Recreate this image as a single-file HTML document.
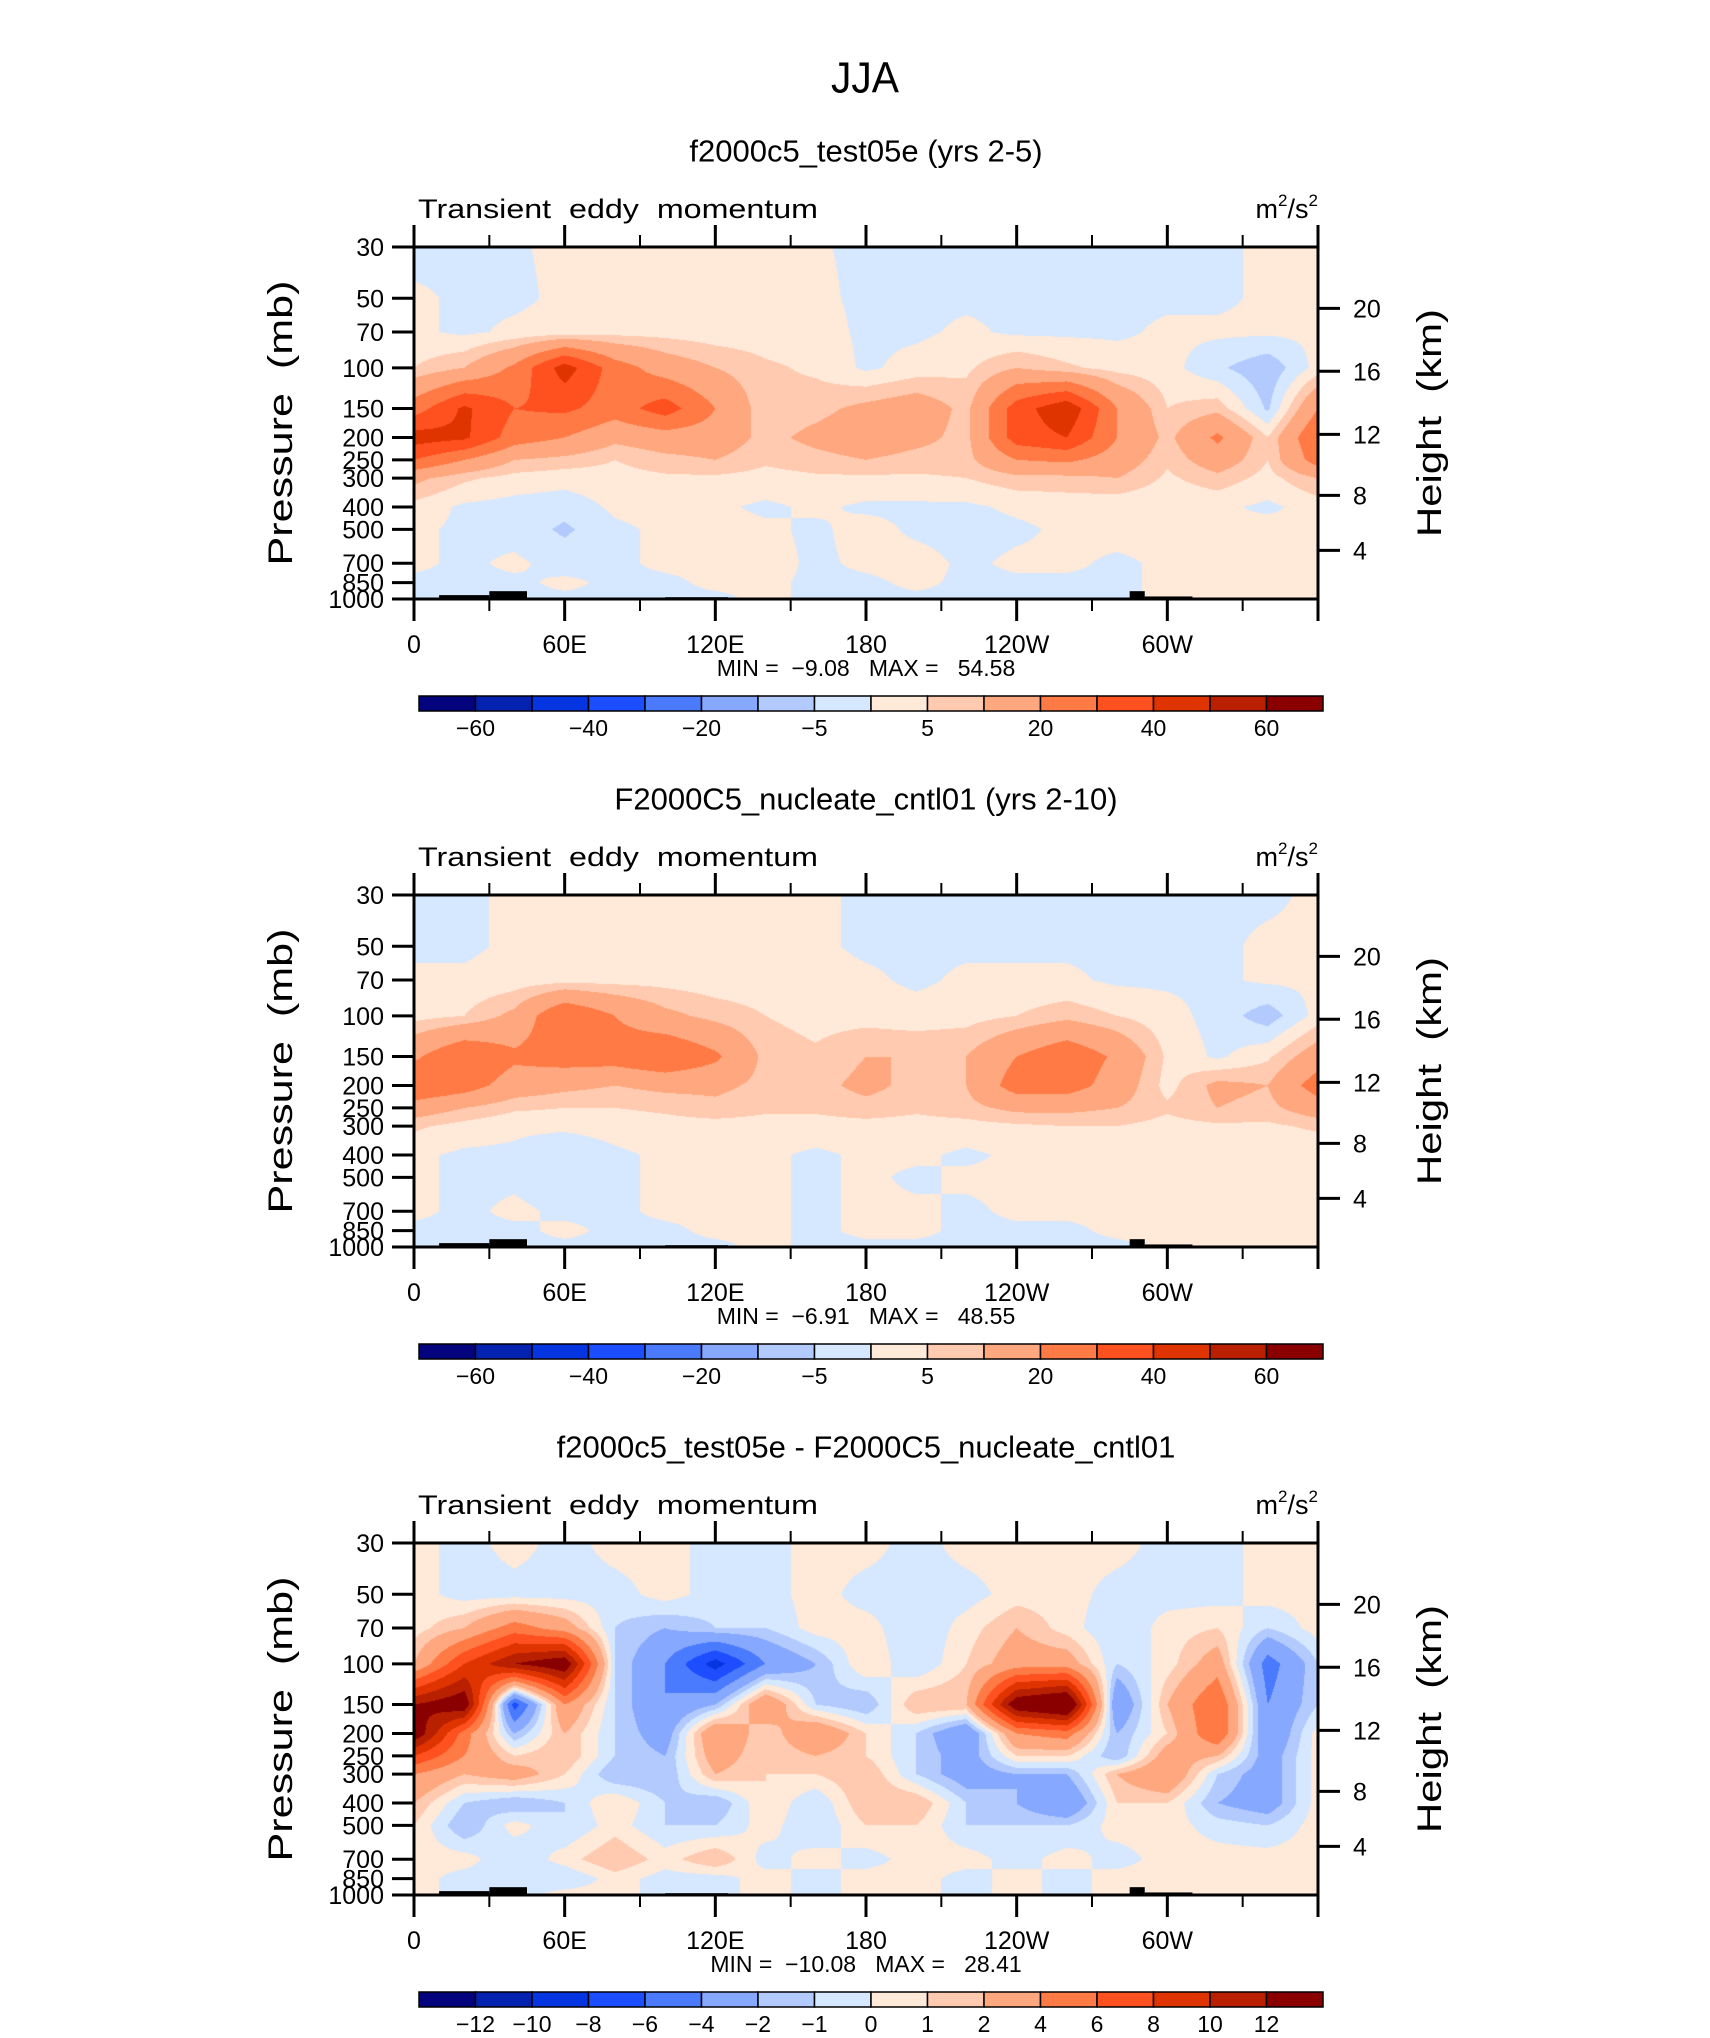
<!DOCTYPE html>
<html><head><meta charset="utf-8">
<style>
html,body{margin:0;padding:0;background:#fff;}
#wrap{position:relative;width:1710px;height:2038px;overflow:hidden;background:#fff;}
canvas{position:absolute;}
svg{position:absolute;left:0;top:0;}
text{font-family:"Liberation Sans",sans-serif;fill:#000;white-space:pre;}
</style></head>
<body>
<div id="wrap">
<canvas id="c0"></canvas>
<canvas id="c1"></canvas>
<canvas id="c2"></canvas>
<svg id="svg" width="1710" height="2038" xmlns="http://www.w3.org/2000/svg"></svg>
</div>
<script>
// ---- data ----
const lons = [0,20,40,60,80,100,120,140,160,180,200,220,240,260,280,300,320,340,360];
const levels = [30,50,70,100,150,200,250,300,400,500,700,850,1000];
const pTicks = [30,50,70,100,150,200,250,300,400,500,700,850,1000];
const hTickLabels = [20,16,12,8,4];
const hTickPressures = [55.3,103.5,194,356,616];
const xTickLabels = ["0","60E","120E","180","120W","60W"];
const xTickLons = [0,60,120,180,240,300];
const boundsMain = [-60,-50,-40,-30,-20,-10,-5,0,5,10,20,30,40,50,60];
const labelsMain = ["-60","","-40","","-20","","-5","","5","","20","","40","","60"];
const boundsDiff = [-12,-10,-8,-6,-4,-2,-1,0,1,2,4,6,8,10,12];
const labelsDiff = ["-12","-10","-8","-6","-4","-2","-1","0","1","2","4","6","8","10","12"];
const palette = ["#03037d","#0422b0","#0535e0","#1c4dff","#4a7bff","#86a8ff","#b3caff","#d5e8ff","#ffe9d8","#ffcab0","#ffa77e","#ff7a45","#ff5020","#e03400","#b82000","#8a0000"];
const titles = ["f2000c5_test05e (yrs 2-5)","F2000C5_nucleate_cntl01 (yrs 2-10)","f2000c5_test05e - F2000C5_nucleate_cntl01"];
const minVals = ["-9.08","-6.91","-10.08"];
const maxVals = ["54.58","48.55","28.41"];

const field1 = [
[-2,-1,-0.5,1,1,1,1,1,0.5,-1,-1,-1,-1,-1,-1,-1,-1,1,1],
[1,-1,-1,1,1,1,1,1,1,-1,-1,-1,-1,-1,-1,-1,-1,1,1],
[1,-1,1,2,3,3,2,2,2,-1,-1,1,-1,-1,-1,1,1,1,1],
[5,10,22,45,25,15,10,6,4,-1,2,4,10,6,3,2,-4,-9,2],
[25,42,30,32,25,35,20,6,8,12,15,8,35,48,20,5,8,-6,20],
[45,42,25,20,12,15,15,8,12,15,12,8,35,40,20,8,22,5,30],
[30,20,10,8,5,8,10,6,8,10,8,8,20,22,15,6,15,5,25],
[12,6,3,2,3,4,4,3,4,4,4,5,8,8,10,4,8,3,10],
[3,-1,-2,-3,1,2,1,-1,1,-1,-1,-1,1,2,1,1,1,-1,2],
[1,-1,-2,-6,-1,1,2,1,-1,2,-1,-2,-1,1,2,2,1,2,1],
[1,-1,1,-2,-1,1,1,2,-1,1,2,-1,1,1,-1,1,2,1,1],
[-1,-1,-1,1,-1,-1,1,1,-1,-1,1,-1,-1,-1,-1,1,1,1,1],
[-1,-1,-1,-1,-1,-1,-1,1,-1,-1,-1,-1,-1,-1,-1,1,1,1,1]];
const field2 = [
[-1,-1,1,1,1,1,1,1,1,-1,-1,-1,-1,-1,-1,-1,-1,-1,1],
[-1,-1,1,1,1,1,1,1,1,-1,-1,-1,-1,-1,-1,-1,-1,1,1],
[1,1,2,3,3,3,2,2,2,1,-1,1,1,1,-1,-1,-1,1,1],
[3,5,12,30,20,12,8,5,3,3,2,3,5,8,5,2,-2,-8,2],
[18,30,22,25,25,30,22,8,6,10,10,10,20,28,18,4,-1,4,15],
[30,25,15,12,10,12,12,8,8,12,8,10,25,25,15,3,12,10,25],
[15,10,6,5,5,6,8,6,6,8,6,8,12,12,10,6,10,8,15],
[6,3,1,1,2,3,3,3,3,3,3,3,4,5,5,3,4,4,6],
[1,-1,-1,-4,-1,1,1,1,-1,1,1,-1,1,1,1,1,2,1,1],
[1,-1,-1,-3,-1,1,1,1,-1,1,-1,1,1,1,1,1,1,1,1],
[1,-1,1,-1,-1,1,1,1,-1,1,1,-1,1,1,1,1,1,1,1],
[-1,-1,-1,1,-1,-1,1,1,-1,1,1,-1,-1,-1,1,1,1,1,1],
[-1,-1,-1,-1,-1,-1,-1,1,-1,-1,-1,-1,-1,-1,-1,1,1,1,1]];
const field3 = [
[0.5,-0.5,0.5,-0.5,0.5,0.5,-0.5,-0.5,0.5,0.5,-0.5,0.5,0.5,0.5,0.5,-0.5,-0.5,0.5,0.5],
[0.5,-0.5,-0.5,-0.5,-0.5,0.5,-0.5,-0.5,0.5,-0.5,-0.5,-0.5,0.5,0.5,-0.5,-0.5,-0.5,0.5,0.5],
[0.5,2,5,3,-1,-2,-1,-1,0.5,0.5,-1,0.5,2,0.5,-1,0.5,1,-1,0.5],
[2,8,12,14,-1,-4,-9,-4,-2,1,-1,1,3,3,-1,0.5,3,-5,-1],
[12,14,-7,4,-1,-4,-2,4,-1,-2,2,2,14,16,-4,2,6,-4,-1],
[14,5,-2,2,-1,-3,4,1,4,1,-1,-4,4,5,-2,1,6,-4,0.5],
[8,4,1,2,-1,-2,3,1,2,1,-1,-3,1,1,-2,3,2,-3,0.5],
[4,2,3,1,-2,-2,2,1,1,2,-1,-3,-2,-2,2,4,-1,-3,0.5],
[2,-1,-2,-1,1,-1,-2,1,-1,2,2,-1,-2,-4,1,1,-2,-3,0.5],
[1,-2,0.5,-1,0.5,-1,-1,0.5,-1,1,1,-1,-1,-1,0.5,0.5,-0.5,-1,0.5],
[0.5,0.5,-1,0.5,2,0.5,2,-0.5,0.5,-0.5,0.5,0.5,-0.5,0.5,-0.5,0.5,0.5,0.5,0.5],
[0.5,-0.5,-0.5,-1,0.5,-0.5,-0.5,0.5,-0.5,0.5,0.5,-0.5,0.5,-0.5,0.5,0.5,0.5,0.5,0.5],
[0.5,-0.5,-0.5,0.5,0.5,-0.5,-0.5,0.5,-0.5,0.5,0.5,-0.5,0.5,-0.5,0.5,0.5,0.5,0.5,0.5]];
// topography segments (lon start, lon end, top pressure)
const topoStart = [10,30,100,285,291];
const topoEnd = [30,45,125,291,310];
const topoTopP = [962,925,982,925,975];

// ---- layout ----
const PL = 414, PW = 904, PH = 352;
const panelTops = [247, 895, 1543];
const fields = [field1, field2, field3];
const bounds = [boundsMain, boundsMain, boundsDiff];
const cbLabels = [labelsMain, labelsMain, labelsDiff];

const LN = Math.log(1000/30);
function xOf(lon){ return PL + lon/360*PW; }
function yOf(p, T){ return T + PH*Math.log(p/30)/LN; }

const svg = document.getElementById('svg');
const NS = "http://www.w3.org/2000/svg";
function mk(tag, attrs, parent){
  const e = document.createElementNS(NS, tag);
  for (const k in attrs) e.setAttribute(k, attrs[k]);
  (parent||svg).appendChild(e);
  return e;
}
function txt(x,y,s,size,anchor,parent,extra){
  const t = mk('text',{x:x,y:y,'font-size':size,'text-anchor':anchor||'start','dominant-baseline':'central'},parent);
  if (extra) for (const k in extra) t.setAttribute(k, extra[k]);
  t.textContent = s;
  return t;
}

function colorIndex(v, b){
  let i = 0;
  while (i < b.length && v >= b[i]) i++;
  return i;
}
function sample(F, lon, p){
  let i = Math.min(Math.floor(lon/20), lons.length-2);
  const fx = (lon - lons[i])/20;
  const lp = Math.log(p);
  let j = 0;
  while (j < levels.length-2 && p > levels[j+1]) j++;
  const fy = (lp - Math.log(levels[j]))/(Math.log(levels[j+1])-Math.log(levels[j]));
  const a = F[j][i], b = F[j][i+1], c = F[j+1][i], d = F[j+1][i+1];
  return (a*(1-fx)+b*fx)*(1-fy) + (c*(1-fx)+d*fx)*fy;
}
function hexRgb(h){ return [parseInt(h.slice(1,3),16),parseInt(h.slice(3,5),16),parseInt(h.slice(5,7),16)]; }
const palRgb = palette.map(hexRgb);

// title
const jja = txt(865, 78, "JJA", 44, 'middle', svg, {'textLength':'68','lengthAdjust':'spacingAndGlyphs'});



for (let k=0;k<3;k++){
  const T = panelTops[k];
  const F = fields[k], B = bounds[k];
  const cv = document.getElementById('c'+k);
  cv.width = PW; cv.height = PH;
  cv.style.left = PL+'px'; cv.style.top = T+'px';
  const ctx = cv.getContext('2d');
  const img = ctx.createImageData(PW, PH);
  for (let y=0;y<PH;y++){
    const p = 30*Math.exp((y+0.5)/PH*LN);
    for (let x=0;x<PW;x++){
      const lon = (x+0.5)/PW*360;
      const v = sample(F, lon, p);
      const c = palRgb[colorIndex(v,B)];
      const o = (y*PW+x)*4;
      img.data[o]=c[0]; img.data[o+1]=c[1]; img.data[o+2]=c[2]; img.data[o+3]=255;
    }
  }
  ctx.putImageData(img,0,0);

  const g = mk('g',{});
  
  

  for (let i=0;i<topoStart.length;i++){
    const r = mk('rect',{x:xOf(topoStart[i]), y:yOf(topoTopP[i],T), width:xOf(topoEnd[i])-xOf(topoStart[i]), height:T+PH-yOf(topoTopP[i],T), fill:'#000'}, g);
    
    
  }

  const fr = mk('rect',{x:PL,y:T,width:PW,height:PH,fill:'none',stroke:'#000','stroke-width':3}, g);
  
  

  const st = txt(866, T-96, titles[k], 31, 'middle', g);
  
  
  const lt = txt(PL+4, T-38, "Transient  eddy  momentum", 27, 'start', g, {'textLength':'400','lengthAdjust':'spacingAndGlyphs'});
  
  
  const ut = mk('text',{x:PW+PL, y:T-38, 'font-size':27, 'text-anchor':'end','dominant-baseline':'central'}, g);
  ut.innerHTML = 'm<tspan dy="-9" font-size="17">2</tspan><tspan dy="9">/s</tspan><tspan dy="-9" font-size="17">2</tspan>';
  
  

  for (let lon=0; lon<=360; lon+=30){
    const major = lon%60===0;
    const L = major?22:12;
    const x = xOf(lon);
    mk('line',{x1:x,y1:T,x2:x,y2:T-L,stroke:'#000','stroke-width':major?3:2}, g);
    mk('line',{x1:x,y1:T+PH,x2:x,y2:T+PH+L,stroke:'#000','stroke-width':major?3:2}, g);
  }
  for (let i=0;i<xTickLabels.length;i++){
    const t = txt(xOf(xTickLons[i]), T+398, xTickLabels[i], 25, 'middle', g);
    
    
  }
  for (let i=0;i<pTicks.length;i++){
    const y = yOf(pTicks[i],T);
    mk('line',{x1:PL-22,y1:y,x2:PL,y2:y,stroke:'#000','stroke-width':3}, g);
    const t = txt(PL-30, y+1, String(pTicks[i]), 25, 'end', g);
    
    
  }
  for (let i=0;i<hTickLabels.length;i++){
    const y = yOf(hTickPressures[i],T);
    mk('line',{x1:PL+PW,y1:y,x2:PL+PW+22,y2:y,stroke:'#000','stroke-width':3}, g);
    const t = txt(PL+PW+35, y+1, String(hTickLabels[i]), 25, 'start', g);
    
    
  }
  const yt = txt(0,0,"Pressure  (mb)",34,'middle',g,{'transform':'translate(281,'+(T+176)+') rotate(-90)','textLength':'285','lengthAdjust':'spacingAndGlyphs'});
  
  
  const ht = txt(0,0,"Height  (km)",34,'middle',g,{'transform':'translate(1430,'+(T+176)+') rotate(-90)','textLength':'228','lengthAdjust':'spacingAndGlyphs'});
  
  

  const mm = txt(866, T+421, "MIN =  "+minVals[k].replace('-','\u2212')+"   MAX =   "+maxVals[k], 23, 'middle', g);
  
  

  const cbx = 419, cbw = 904, cby = T+449, cbh = 15;
  const bw = cbw/palette.length;
  const cb = mk('g',{}, g);
  
  
  for (let i=0;i<palette.length;i++){
    const r = mk('rect',{x:cbx+i*bw,y:cby,width:bw,height:cbh,fill:palette[i],stroke:'#000','stroke-width':1.5}, cb);
    
    
  }
  const lab = cbLabels[k];
  for (let i=0;i<lab.length;i++){
    if (!lab[i]) continue;
    const t = txt(cbx+(i+1)*bw, T+481, lab[i].replace('-','\u2212'), 23, 'middle', cb);
    
    
  }
}
</script>
</body></html>
